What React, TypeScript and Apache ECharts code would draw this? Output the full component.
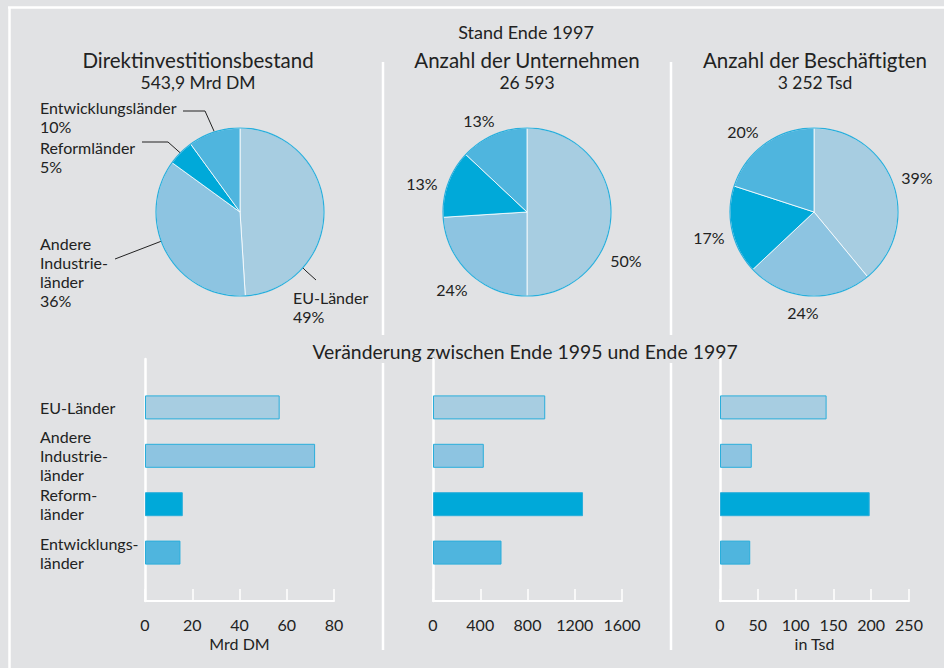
import React, { useEffect, useRef } from "react";
import * as echarts from "echarts";

// ---------- data ----------
const pieInvestNames = ["EU-Länder", "Andere\nIndustrie-\nländer", "Reformländer", "Entwicklungsländer"];
const pieInvest = [49, 36, 5, 10];
const pieFirms = [50, 24, 13, 13];
const pieStaff = [39, 24, 17, 20];

const barCategories = ["EU-Länder", "Andere\nIndustrie-\nländer", "Reform-\nländer", "Entwicklungs-\nländer"];
const barInvest = [57, 72, 16, 15];
const barFirms = [950, 430, 1270, 580];
const barStaff = [141, 42, 198, 40];

const investAxis = { max: 80, interval: 20, name: "Mrd DM" };
const firmsAxis = { max: 1600, interval: 400, name: "" };
const staffAxis = { max: 250, interval: 50, name: "in Tsd" };

const mainTitle = "Stand Ende 1997";
const pieTitles = ["Direktinvestitionsbestand", "Anzahl der Unternehmen", "Anzahl der Beschäftigten"];
const pieSubtitles = ["543,9 Mrd DM", "26 593", "3 252 Tsd"];
const barTitle = "Veränderung zwischen Ende 1995 und Ende 1997";

// ---------- styles / layout ----------
const sliceColors = ["#a7cde1", "#8dc4e1", "#00a9d9", "#4fb5de"];
const outlineColor = "#2aaedb";
const bg = "#e1e2e4";
const textColor = "#222222";
const FONT = "Lato, 'Open Sans', sans-serif";

const pieCenters: [number, number][] = [[240, 212], [527, 212], [814, 212]];
const pieRadius = 84;

// label layout positions (x, y, leader line points)
const pie1LabelLayout = [
  { x: 293, y: 288, line: [[297, 262], [306, 271], [316, 280]] },
  { x: 40, y: 234, line: [[167, 239], [141, 249], [115, 259]] },
  { x: 40, y: 138, line: [[186, 158], [168, 142], [142, 142]] },
  { x: 40, y: 98, line: [[218, 140], [205, 111], [183, 111]] },
];
const pie2LabelPos = [[626, 260], [452, 289], [422, 183], [479, 120]];
const pie3LabelPos = [[917, 177], [803, 312], [709, 237], [743, 131]];

const gridLefts = [145, 433, 720];
const gridWidth = 189;
const gridTop = 359;
const gridHeight = 242;

export default function App() {
  const ref = useRef<HTMLDivElement>(null);

  useEffect(() => {
    if (!ref.current) return;
    const chart = echarts.init(ref.current, undefined, { renderer: "svg" });

    const pieBase = (idx: number, values: number[], names: string[] | null) => ({
      type: "pie",
      center: pieCenters[idx],
      radius: pieRadius,
      startAngle: 90,
      clockwise: true,
      avoidLabelOverlap: false,
      silent: true,
      minShowLabelAngle: 0,
      itemStyle: { borderColor: "#ffffff", borderWidth: 0.8 },
      data: values.map((v, i) => ({
        value: v,
        name: names ? names[i] : String(i),
        itemStyle: { color: sliceColors[i] },
      })),
    });

    const outline = (idx: number) => ({
      type: "pie",
      center: pieCenters[idx],
      radius: [pieRadius - 0.6, pieRadius + 0.6],
      silent: true,
      label: { show: false },
      labelLine: { show: false },
      itemStyle: { color: outlineColor },
      data: [{ value: 1, name: "outline" }],
    });

    const pie1 = {
      ...pieBase(0, pieInvest, pieInvestNames),
      label: {
        show: true,
        position: "outside",
        formatter: "{b}\n{c}%",
        fontFamily: FONT,
        fontSize: 16,
        lineHeight: 19,
        color: textColor,
      },
      labelLine: { show: true, lineStyle: { color: "#222", width: 1 } },
      labelLayout: (p: any) => {
        const l = pie1LabelLayout[p.dataIndex];
        return { x: l.x, y: l.y, align: "left", verticalAlign: "top", labelLinePoints: l.line };
      },
    };

    const simplePie = (idx: number, values: number[], pos: number[][]) => ({
      ...pieBase(idx, values, null),
      label: {
        show: true,
        position: "outside",
        formatter: "{c}%",
        fontFamily: FONT,
        fontSize: 16,
        color: textColor,
      },
      labelLine: { show: false },
      labelLayout: (p: any) => {
        const l = pos[p.dataIndex];
        return { x: l[0], y: l[1], align: "center", verticalAlign: "middle" };
      },
    });

    const axes = [investAxis, firmsAxis, staffAxis];
    const barData = [barInvest, barFirms, barStaff];

    const grids = gridLefts.map((l) => ({ left: l, width: gridWidth, top: gridTop, height: gridHeight }));

    const xAxes = axes.map((a, i) => ({
      type: "value",
      gridIndex: i,
      min: 0,
      max: a.max,
      interval: a.interval,
      name: a.name,
      nameLocation: "middle",
      nameGap: 34,
      nameTextStyle: { fontFamily: FONT, fontSize: 16, color: textColor },
      axisLine: { show: true, lineStyle: { color: "#ffffff", width: 2 } },
      axisTick: { show: true, inside: true, length: 12, lineStyle: { color: "#ffffff", width: 1.5 } },
      splitLine: { show: false },
      axisLabel: {
        fontFamily: FONT,
        fontSize: 16,
        color: textColor,
        margin: 15,
        formatter: (v: number) => String(v),
      },
    }));

    const yAxes = axes.map((_, i) => ({
      type: "category",
      gridIndex: i,
      inverse: true,
      boundaryGap: false,
      data: ["", ...barCategories, ""],
      axisLine: { show: true, lineStyle: { color: "#ffffff", width: 2.5 } },
      axisTick: { show: false },
      splitLine: { show: false },
      axisLabel: {
        show: i === 0,
        interval: 0,
        align: "left",
        margin: 105,
        fontFamily: FONT,
        fontSize: 16,
        lineHeight: 19,
        color: textColor,
      },
    }));

    const bars = barData.map((vals, i) => ({
      type: "bar",
      xAxisIndex: i,
      yAxisIndex: i,
      barWidth: 24,
      silent: true,
      data: [null, ...vals.map((v, k) => ({
        value: v,
        itemStyle: { color: sliceColors[k], borderColor: outlineColor, borderWidth: 1 },
      })), null],
    }));

    const white = { stroke: "#ffffff", lineWidth: 2.5 };
    const txt = (text: string, x: number, y: number, size: number) => ({
      type: "text",
      x,
      y,
      silent: true,
      style: {
        text,
        fill: textColor,
        font: `${size}px ${FONT}`,
        textAlign: "center",
        textVerticalAlign: "middle",
      },
    });

    const graphic = [
      { type: "line", silent: true, shape: { x1: 8, y1: 7.5, x2: 944, y2: 7.5 }, style: white },
      { type: "line", silent: true, shape: { x1: 9.5, y1: 7, x2: 9.5, y2: 668 }, style: white },
      { type: "line", silent: true, shape: { x1: 383, y1: 62, x2: 383, y2: 335 }, style: white },
      { type: "line", silent: true, shape: { x1: 671, y1: 62, x2: 671, y2: 335 }, style: white },
      { type: "line", silent: true, shape: { x1: 383, y1: 363, x2: 383, y2: 650 }, style: white },
      { type: "line", silent: true, shape: { x1: 671, y1: 363, x2: 671, y2: 650 }, style: white },
      txt(mainTitle, 526, 32, 18),
      txt(pieTitles[0], 198, 60, 20.5),
      txt(pieTitles[1], 527, 60, 20.5),
      txt(pieTitles[2], 815, 60, 20.5),
      txt(pieSubtitles[0], 198, 82.5, 17.5),
      txt(pieSubtitles[1], 527, 82.5, 17.5),
      txt(pieSubtitles[2], 815, 82.5, 17.5),
      txt(barTitle, 525, 351, 19.4),
    ];

    chart.setOption({
      animation: false,
      backgroundColor: bg,
      textStyle: { fontFamily: FONT },
      grid: grids,
      xAxis: xAxes,
      yAxis: yAxes,
      series: [
        pie1,
        simplePie(1, pieFirms, pie2LabelPos),
        simplePie(2, pieStaff, pie3LabelPos),
        outline(0),
        outline(1),
        outline(2),
        ...bars,
      ],
      graphic,
    });

    return () => chart.dispose();
  }, []);

  return (
    <div
      ref={ref}
      style={{ position: "absolute", left: 0, top: 0, width: 944, height: 668 }}
    />
  );
}
